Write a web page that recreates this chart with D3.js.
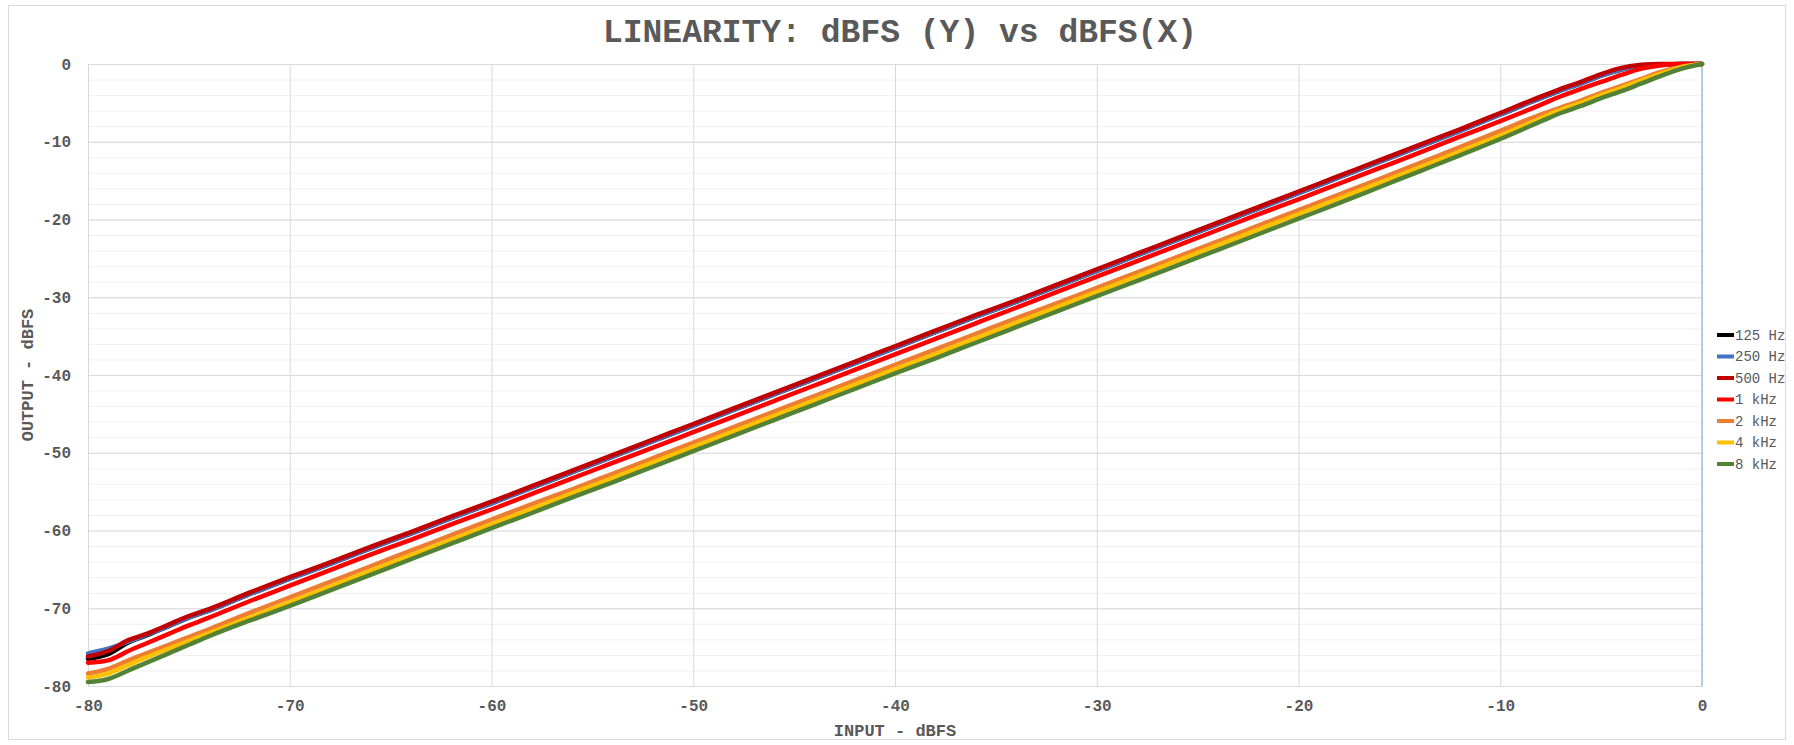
<!DOCTYPE html>
<html>
<head>
<meta charset="utf-8">
<script src="https://cdn.jsdelivr.net/npm/d3@7"></script>
<style>
  body { margin: 0; background: #fff; }
  svg text { font-family: "Liberation Mono", "Courier New", monospace; fill: #595959; }
</style>
</head>
<body>
<div id="chart"></div>
<script>

// Input levels (dBFS)
var inputLevels = [-80,-79,-78,-77,-76,-75,-74,-72,-70,-68,-66,-64,-62,-60,-58,-56,-54,-52,-50,-48,-46,-44,-42,-40,-38,-36,-34,-32,-30,-28,-26,-24,-22,-20,-18,-16,-14,-12,-10,-8,-7,-6,-5,-4,-3,-2,-1,0];

// Output levels per frequency (dBFS)
var out125 = [-76.5,-75.9,-74.4,-73.4,-72.3,-71.2,-70.3,-68.2,-66.2,-64.3,-62.3,-60.4,-58.4,-56.5,-54.5,-52.5,-50.5,-48.5,-46.5,-44.5,-42.5,-40.5,-38.5,-36.5,-34.5,-32.5,-30.6,-28.6,-26.6,-24.6,-22.6,-20.6,-18.6,-16.6,-14.6,-12.6,-10.6,-8.6,-6.5,-4.4,-3.4,-2.5,-1.5,-0.7,-0.2,-0.05,0,0];
var out250 = [-75.8,-75.2,-74.3,-73.3,-72.3,-71.2,-70.3,-68.2,-66.2,-64.3,-62.3,-60.4,-58.4,-56.5,-54.5,-52.5,-50.5,-48.5,-46.5,-44.5,-42.5,-40.5,-38.5,-36.5,-34.5,-32.5,-30.6,-28.6,-26.6,-24.6,-22.6,-20.6,-18.6,-16.6,-14.6,-12.6,-10.6,-8.6,-6.5,-4.4,-3.4,-2.5,-1.5,-0.7,-0.2,-0.05,0,0];
var out500 = [-76.2,-75.5,-74.1,-73.2,-72.1,-71.0,-70.1,-68.0,-66.0,-64.1,-62.1,-60.2,-58.2,-56.3,-54.3,-52.3,-50.3,-48.3,-46.3,-44.3,-42.3,-40.3,-38.3,-36.3,-34.3,-32.3,-30.4,-28.4,-26.4,-24.4,-22.4,-20.4,-18.4,-16.4,-14.4,-12.4,-10.4,-8.4,-6.3,-4.2,-3.2,-2.3,-1.3,-0.5,-0.1,0,0,0];
var out1k = [-77.0,-76.7,-75.5,-74.4,-73.3,-72.2,-71.2,-69.1,-67.1,-65.1,-63.1,-61.2,-59.2,-57.3,-55.3,-53.3,-51.3,-49.35,-47.35,-45.35,-43.35,-41.35,-39.35,-37.35,-35.35,-33.35,-31.35,-29.35,-27.35,-25.35,-23.35,-21.35,-19.35,-17.4,-15.4,-13.4,-11.4,-9.35,-7.35,-5.25,-4.15,-3.2,-2.3,-1.4,-0.6,-0.15,0,0];
var out2k = [-78.4,-77.8,-76.7,-75.7,-74.7,-73.7,-72.7,-70.6,-68.6,-66.6,-64.6,-62.6,-60.6,-58.6,-56.6,-54.7,-52.7,-50.7,-48.7,-46.7,-44.7,-42.7,-40.7,-38.7,-36.7,-34.7,-32.7,-30.8,-28.8,-26.8,-24.8,-22.8,-20.8,-18.8,-16.8,-14.8,-12.75,-10.7,-8.6,-6.5,-5.6,-4.7,-3.7,-2.8,-1.9,-1.0,-0.35,0];
var out4k = [-78.9,-78.4,-77.3,-76.2,-75.2,-74.2,-73.2,-71.2,-69.2,-67.2,-65.2,-63.2,-61.2,-59.2,-57.2,-55.2,-53.25,-51.25,-49.25,-47.25,-45.25,-43.25,-41.25,-39.25,-37.3,-35.3,-33.3,-31.3,-29.3,-27.3,-25.3,-23.3,-21.3,-19.3,-17.3,-15.3,-13.3,-11.25,-9.2,-7.0,-5.9,-5.0,-4.0,-3.1,-2.1,-1.2,-0.4,0];
var out8k = [-79.5,-79.1,-78.0,-76.9,-75.8,-74.7,-73.6,-71.6,-69.7,-67.7,-65.7,-63.7,-61.7,-59.7,-57.75,-55.75,-53.8,-51.8,-49.8,-47.8,-45.8,-43.8,-41.8,-39.8,-37.85,-35.85,-33.85,-31.85,-29.85,-27.9,-25.9,-23.9,-21.9,-19.9,-17.9,-15.85,-13.8,-11.75,-9.65,-7.4,-6.3,-5.4,-4.4,-3.5,-2.5,-1.5,-0.6,0];

var seriesNames = ["125 Hz", "250 Hz", "500 Hz", "1 kHz", "2 kHz", "4 kHz", "8 kHz"];
var seriesValues = [out125, out250, out500, out1k, out2k, out4k, out8k];
var seriesColors = ["#000000", "#4472C4", "#C00000", "#FF0000", "#ED7D31", "#FFC000", "#548235"];

var xTicks = [-80, -70, -60, -50, -40, -30, -20, -10, 0];
var yTicks = [0, -10, -20, -30, -40, -50, -60, -70, -80];
var yMinorTicks = d3.range(-80, 1, 2);

var width = 1794, height = 745;
var plot = { left: 88, right: 1702, top: 64, bottom: 686 };

var svg = d3.select("#chart").append("svg")
    .attr("width", width)
    .attr("height", height);

// Chart border
svg.append("rect")
    .attr("x", 8.5).attr("y", 5.5)
    .attr("width", 1777).attr("height", 734)
    .attr("fill", "#fff")
    .attr("stroke", "#d9d9d9");

var x = d3.scaleLinear().domain([-80, 0]).range([plot.left, plot.right]);
var y = d3.scaleLinear().domain([-80, 0]).range([plot.bottom, plot.top]);

// Minor horizontal grid
svg.append("g")
    .attr("transform", "translate(" + plot.left + ",0)")
    .call(d3.axisLeft(y).tickValues(yMinorTicks).tickSize(-(plot.right - plot.left)).tickFormat(""))
    .call(function (g) { g.select(".domain").remove(); })
    .selectAll("line").attr("stroke", "#f0f0f0");

// Major horizontal grid + labels
svg.append("g")
    .attr("transform", "translate(" + plot.left + ",0)")
    .call(d3.axisLeft(y).tickValues(yTicks).tickSize(-(plot.right - plot.left)).tickPadding(17).tickFormat(function (d) { return String(d); }))
    .call(function (g) { g.select(".domain").remove(); })
    .call(function (g) { g.selectAll("line").attr("stroke", "#d9d9d9"); })
    .selectAll("text")
    .style("font-size", "16px").style("font-weight", "bold")
    .style("font-family", "'Liberation Mono', monospace").attr("fill", "#595959");

// Vertical grid + labels
svg.append("g")
    .attr("transform", "translate(0," + plot.bottom + ")")
    .call(d3.axisBottom(x).tickValues(xTicks).tickSize(-(plot.bottom - plot.top)).tickPadding(14).tickFormat(function (d) { return String(d); }))
    .call(function (g) { g.select(".domain").attr("stroke", "#d9d9d9"); })
    .call(function (g) { g.selectAll("line").attr("stroke", "#d9d9d9"); })
    .selectAll("text")
    .style("font-size", "16px").style("font-weight", "bold")
    .style("font-family", "'Liberation Mono', monospace").attr("fill", "#595959");

// Value axis line at x = 0
svg.append("line")
    .attr("x1", x(0)).attr("x2", x(0))
    .attr("y1", plot.top).attr("y2", plot.bottom)
    .attr("stroke", "#9DC3E6").attr("stroke-width", 1.5);

// Series lines
var line = d3.line()
    .x(function (d, i) { return x(inputLevels[i]); })
    .y(function (d) { return y(d); })
    .curve(d3.curveMonotoneX);

svg.append("g").selectAll("path")
    .data(seriesValues)
    .join("path")
    .attr("d", line)
    .attr("fill", "none")
    .attr("stroke", function (d, i) { return seriesColors[i]; })
    .attr("stroke-width", 4.5)
    .attr("stroke-linejoin", "round")
    .attr("stroke-linecap", "round");

// Title
svg.append("text")
    .attr("x", 900).attr("y", 42)
    .attr("text-anchor", "middle")
    .style("font-size", "33px").style("font-weight", "bold")
    .text("LINEARITY: dBFS (Y) vs dBFS(X)");

// Axis titles
svg.append("text")
    .attr("x", (plot.left + plot.right) / 2).attr("y", 736)
    .attr("text-anchor", "middle")
    .style("font-size", "17px").style("font-weight", "bold")
    .text("INPUT - dBFS");

svg.append("text")
    .attr("transform", "translate(33," + (plot.top + plot.bottom) / 2 + ") rotate(-90)")
    .attr("text-anchor", "middle")
    .style("font-size", "17px").style("font-weight", "bold")
    .text("OUTPUT - dBFS");

// Legend
var legend = svg.append("g").attr("transform", "translate(1717,335)");
var rows = legend.selectAll("g")
    .data(seriesNames)
    .join("g")
    .attr("transform", function (d, i) { return "translate(0," + (i * 21.5) + ")"; });

rows.append("line")
    .attr("x1", 0).attr("x2", 17)
    .attr("stroke", function (d, i) { return seriesColors[i]; })
    .attr("stroke-width", 4);

rows.append("text")
    .attr("x", 18).attr("dy", "0.35em")
    .style("font-size", "14px")
    .text(function (d) { return d; });

</script>
</body>
</html>
